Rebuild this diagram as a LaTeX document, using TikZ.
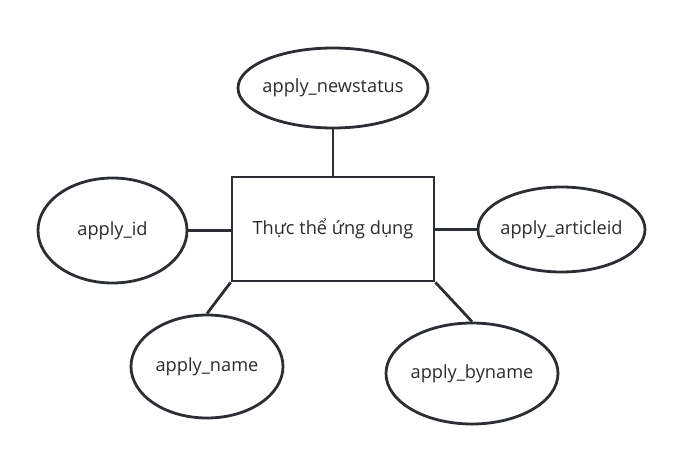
\documentclass[tikz,border=0pt]{standalone}
\usepackage{fontspec}
\setmainfont{Open Sans}
\usetikzlibrary{shapes.geometric}
\definecolor{lc}{HTML}{2B2F33}
\definecolor{tc}{HTML}{2B2B2B}
\newcommand{\zw}[1]{\makebox[0pt]{#1}}
\begin{document}
\begin{tikzpicture}[x=1pt,y=-1pt,
  attr/.style={ellipse,draw=lc,line width=2.8pt,inner sep=0pt,font=\fontsize{18.2}{21}\selectfont,text=tc},
  ent/.style={rectangle,draw=lc,line width=2.8pt,inner sep=0pt,minimum width=202pt,minimum height=104pt,font=\fontsize{18.2}{21}\selectfont,text=tc},
  conn/.style={draw=lc,line width=2.8pt}]
\useasboundingbox (0,0) rectangle (682,462);
\node[ent] (e) at (333,229) {Thực thể ứng dụng};
\node[attr,minimum width=190pt,minimum height=80pt] (ns) at (333,88) {\zw{apply\_newstatus}};
\node[attr,minimum width=149pt,minimum height=105pt] (id) at (112.5,230.5) {\zw{apply\_id}};
\node[attr,minimum width=167pt,minimum height=85pt] (ai) at (561.5,229.5) {\zw{apply\_articleid}};
\node[attr,minimum width=152pt,minimum height=103pt] (nm) at (207,366.5) {\zw{apply\_name}};
\node[attr,minimum width=172pt,minimum height=101pt] (bn) at (472,373.5) {\zw{apply\_byname}};
\draw[conn] (ns.south) -- (e.north -| ns.south);
\draw[conn] (id.east) -- (e.west |- id.east);
\draw[conn] (e.east |- ai.west) -- (ai.west);
\draw[conn] (e.south west) -- (nm.north);
\draw[conn] (e.south east) -- (bn.north);
\end{tikzpicture}
\end{document}
